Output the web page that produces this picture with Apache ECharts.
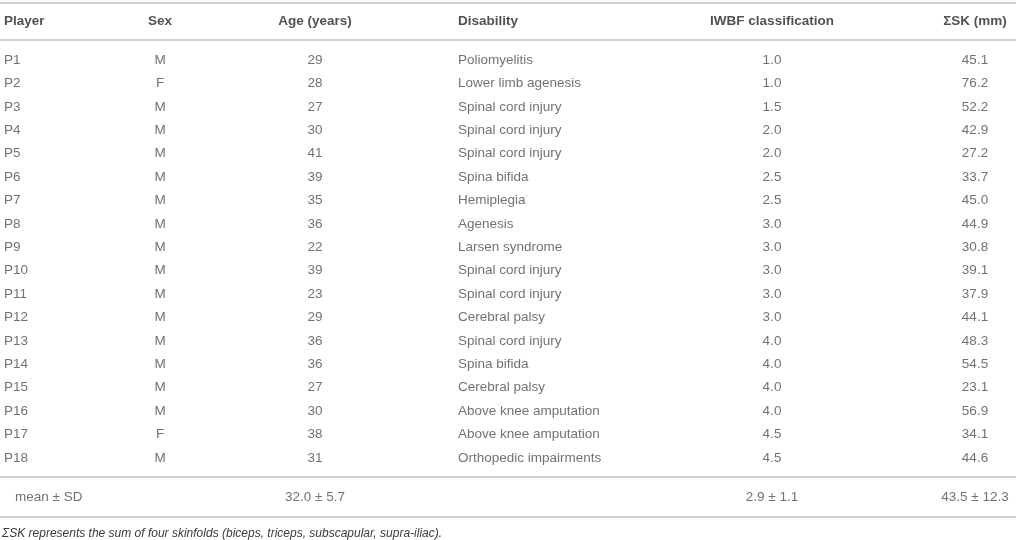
<!DOCTYPE html>
<html><head><meta charset="utf-8">
<script src="https://cdn.jsdelivr.net/npm/echarts@6/dist/echarts.min.js"></script>
<style>html,body{margin:0;padding:0;background:#fff}#c{width:1016px;height:540px}</style>
</head><body><div id="c"></div>
<script>
const headers = ['Player','Sex','Age (years)','Disability','IWBF classification','ΣSK (mm)'];
const players = ['P1','P2','P3','P4','P5','P6','P7','P8','P9','P10','P11','P12','P13','P14','P15','P16','P17','P18'];
const sex = ['M','F','M','M','M','M','M','M','M','M','M','M','M','M','M','M','F','M'];
const age = ['29','28','27','30','41','39','35','36','22','39','23','29','36','36','27','30','38','31'];
const disability = ['Poliomyelitis','Lower limb agenesis','Spinal cord injury','Spinal cord injury','Spinal cord injury','Spina bifida','Hemiplegia','Agenesis','Larsen syndrome','Spinal cord injury','Spinal cord injury','Cerebral palsy','Spinal cord injury','Spina bifida','Cerebral palsy','Above knee amputation','Above knee amputation','Orthopedic impairments'];
const iwbf = ['1.0','1.0','1.5','2.0','2.0','2.5','2.5','3.0','3.0','3.0','3.0','3.0','4.0','4.0','4.0','4.0','4.5','4.5'];
const sumSK = ['45.1','76.2','52.2','42.9','27.2','33.7','45.0','44.9','30.8','39.1','37.9','44.1','48.3','54.5','23.1','56.9','34.1','44.6'];
const meanRow = ['mean ± SD','','32.0 ± 5.7','','2.9 ± 1.1','43.5 ± 12.3'];
const footnote = 'ΣSK represents the sum of four skinfolds (biceps, triceps, subscapular, supra-iliac).';

// layout (pixel positions of columns on a 0..1016 value axis)
const colX = [4, 160, 315, 458, 772, 975];
const colAlign = ['left','center','center','left','center','center'];
const FONT = '"Liberation Sans", Arial, sans-serif';

const bodyCols = [players, sex, age, disability, iwbf, sumSK];
const rowCats = players.map((p,i)=>'r'+i);

function colSeries(gridIdx, cats, values, ci, style) {
  return {
    type: 'scatter', xAxisIndex: gridIdx, yAxisIndex: gridIdx,
    symbolSize: 1, itemStyle: {color: 'rgba(0,0,0,0)'},
    silent: true, animation: false,
    data: values.map((v,i)=>[colX[ci] + (style.dx||0), cats[i], v]),
    label: {
      show: true, position: 'inside', align: colAlign[ci], verticalAlign: 'middle',
      formatter: p => p.value[2],
      fontFamily: FONT, fontSize: style.size, fontWeight: style.weight,
      color: style.color
    }
  };
}

const grids = [
  {left: 0, right: 0, top: 4, height: 35},
  {left: 0, right: 0, top: 48.3, height: 421.2},
  {left: 0, right: 0, top: 478, height: 38}
];
const xAxes = grids.map((g,i)=>({gridIndex: i, type: 'value', min: 0, max: 1016, show: false}));
const yAxes = [
  {gridIndex: 0, type: 'category', data: ['h'], show: false},
  {gridIndex: 1, type: 'category', data: rowCats, inverse: true, show: false},
  {gridIndex: 2, type: 'category', data: ['m'], show: false}
];

const series = [];
headers.forEach((h,ci)=>series.push(colSeries(0, ['h'], [h], ci, {size: 13.5, weight: 'bold', color: '#262626'})));
bodyCols.forEach((col,ci)=>series.push(colSeries(1, rowCats, col, ci, {size: 13.5, weight: 'normal', color: '#4d4d4d'})));
meanRow.forEach((v,ci)=>{ if (v) series.push(colSeries(2, ['m'], [v], ci, {size: 13.5, weight: 'normal', color: '#4d4d4d', dx: ci===0 ? 11 : 0})); });

const ruleY = [3, 40, 477, 517];
const chart = echarts.init(document.getElementById('c'), null, {renderer: 'canvas'});
chart.setOption({
  animation: false,
  grid: grids, xAxis: xAxes, yAxis: yAxes, series: series,
  title: {text: footnote, left: 2, top: 527.5, padding: 0,
    textStyle: {fontFamily: FONT, fontSize: 12, fontStyle: 'italic', fontWeight: 'normal', color: '#3a3a3a'}},
  graphic: ruleY.map(y=>({type: 'rect', left: 0, top: y - 1, shape: {width: 1016, height: 2}, style: {fill: '#d0d0d0'}, silent: true}))
});
</script></body></html>
